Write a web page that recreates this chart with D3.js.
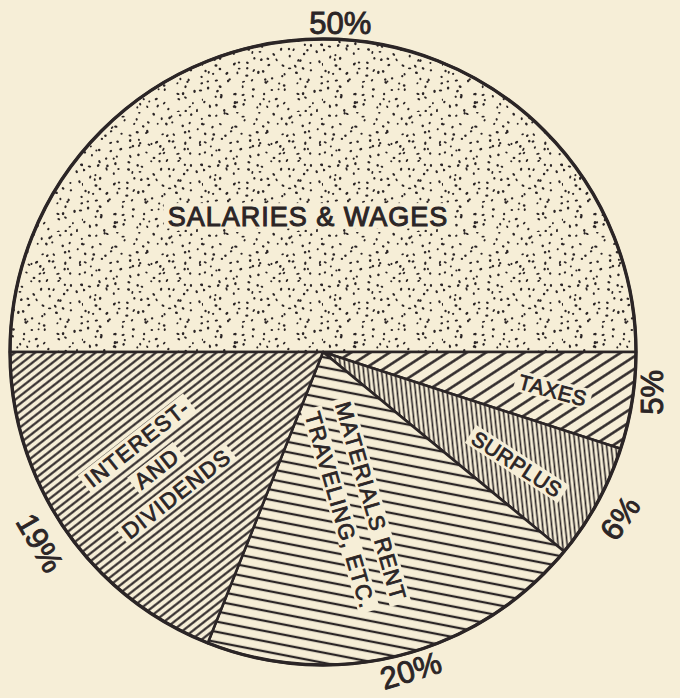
<!DOCTYPE html>
<html><head><meta charset="utf-8">
<script src="https://cdn.jsdelivr.net/npm/d3@7"></script>
<style>html,body{margin:0;padding:0;background:#f6eed7;}svg{display:block;}</style>
</head><body>
<script>
// ---- data ----
const categories = ["SALARIES & WAGES", "TAXES", "SURPLUS", "MATERIALS RENT TRAVELING, ETC.", "INTEREST AND DIVIDENDS"];
const values = [50, 5, 6, 20, 19];
const pctLabels = ["50%", "5%", "6%", "20%", "19%"];
const labelLines = [["SALARIES & WAGES"], ["TAXES"], ["SURPLUS"], ["MATERIALS RENT", "TRAVELING, ETC."], ["INTEREST-", "AND", "DIVIDENDS"]];

// ---- layout / style ----
const W = 680, H = 698, cx = 323, cy = 352, R = 313;
const ink = "#2b2526", paper = "#f6eed7";
const fills = ["url(#dots)", "url(#taxes)", "url(#surplus)", "url(#materials)", "url(#interest)"];
// inner label layout: radius, angle offset from slice mid (deg), rotation, font size, line gap
const inLayout = [
  {r: 137, da: -6.3, rot: 0, fs: 27, gap: 0, ls: 1.0, sw: 1.0},
  {r: 233, da: 0.4, rot: 15, fs: 21, gap: 0, ls: 0.5, sw: 0.8},
  {r: 224, da: 1.2, rot: 33, fs: 21, gap: 0, ls: 0.5, sw: 0.8},
  {r: 157, da: 2.4, rot: 74, fs: 22, gap: 32, ls: 1.2, sw: 0.8},
  {r: 203, da: -0.8, rot: -38, fs: 22, gap: 32, ls: 1.2, sw: 0.8}
];
const pctLayout = [
  {r: 330, da: 3, rot: 0}, {r: 331, da: -2, rot: -90}, {r: 340, da: 0.4, rot: -55},
  {r: 330, da: -1, rot: -17}, {r: 341, da: 0.2, rot: 60}
];

const svg = d3.select("body").append("svg").attr("width", W).attr("height", H);
svg.append("rect").attr("width", W).attr("height", H).attr("fill", paper);
const defs = svg.append("defs");

function hatch(id, spacing, thick, angle) {
  const p = defs.append("pattern").attr("id", id).attr("patternUnits", "userSpaceOnUse")
    .attr("width", 20).attr("height", spacing).attr("patternTransform", `rotate(${angle})`);
  p.append("rect").attr("width", 20).attr("height", spacing).attr("fill", paper);
  p.append("rect").attr("y", (spacing - thick) / 2).attr("width", 20).attr("height", thick).attr("fill", ink);
}
hatch("taxes", 10.5, 2.5, -33);
hatch("surplus", 4.5, 1.6, 84);
hatch("materials", 10, 2.3, 11);
hatch("interest", 6.2, 2.1, -38);

// stipple texture (seeded, deterministic)
(function () {
  const S = 120;
  const p = defs.append("pattern").attr("id", "dots").attr("patternUnits", "userSpaceOnUse")
    .attr("width", S).attr("height", S);
  p.append("rect").attr("width", S).attr("height", S).attr("fill", paper);
  let seed = 98765;
  const rnd = () => { seed = (seed * 1103515245 + 12345) % 2147483648; return seed / 2147483648; };
  // jittered grid for an even stipple
  const step = 8;
  for (let gx = 0; gx < S; gx += step) {
    for (let gy = 0; gy < S; gy += step) {
      const x = gx + rnd() * step, y = gy + rnd() * step;
      const rx = 1.0 + rnd() * 0.8, ry = 0.9 + rnd() * 0.4, a = rnd() * 180;
      p.append("ellipse").attr("cx", x).attr("cy", y).attr("rx", rx).attr("ry", ry)
        .attr("transform", `rotate(${a},${x},${y})`).attr("fill", ink);
    }
  }
})();

const pie = d3.pie().sort(null).value(d => d).startAngle(-Math.PI / 2).endAngle(3 * Math.PI / 2);
const arcs = pie(values);
const arc = d3.arc().innerRadius(0).outerRadius(R);
const g = svg.append("g").attr("transform", `translate(${cx},${cy})`);

g.selectAll("path.slice").data(arcs).join("path").attr("class", "slice")
  .attr("d", arc).attr("fill", (d, i) => fills[i])
  .attr("stroke", ink).attr("stroke-width", 2.6).attr("stroke-linejoin", "round");
g.append("circle").attr("r", R).attr("fill", "none").attr("stroke", ink).attr("stroke-width", 3.4);

const font = "'Liberation Sans', Arial, sans-serif";
function polar(r, aDeg) { const a = aDeg * Math.PI / 180; return [r * Math.sin(a), -r * Math.cos(a)]; }

// inner labels
arcs.forEach((d, i) => {
  const L = inLayout[i];
  const mid = (d.startAngle + d.endAngle) / 2 * 180 / Math.PI;
  const [x, y] = polar(L.r, mid + L.da);
  const lg = g.append("g").attr("transform", `translate(${x},${y}) rotate(${L.rot})`);
  const lines = labelLines[i];
  lines.forEach((t, k) => {
    const yy = (k - (lines.length - 1) / 2) * L.gap;
    const bg = lg.append("rect").attr("fill", paper);
    const tx = lg.append("text").attr("x", 0).attr("y", yy).attr("dy", "0.36em")
      .attr("text-anchor", "middle").attr("font-family", font).attr("font-size", L.fs)
      .attr("letter-spacing", L.ls).attr("fill", ink)
      .attr("stroke", ink).attr("stroke-width", L.sw).text(t);
    const w = tx.node().getComputedTextLength();
    const hgt = L.fs * 0.72;
    bg.attr("x", -w / 2 - 4).attr("y", yy - hgt / 2 - 3).attr("width", w + 8).attr("height", hgt + 6);
  });
});

// percentage labels
arcs.forEach((d, i) => {
  const L = pctLayout[i];
  const mid = (d.startAngle + d.endAngle) / 2 * 180 / Math.PI;
  const [x, y] = polar(L.r, mid + L.da);
  g.append("text").attr("transform", `translate(${x},${y}) rotate(${L.rot})`)
    .attr("dy", "0.36em").attr("text-anchor", "middle").attr("font-family", font)
    .attr("font-size", 31).attr("fill", ink).attr("stroke", ink).attr("stroke-width", 0.9)
    .text(pctLabels[i]);
});
</script>
</body></html>
